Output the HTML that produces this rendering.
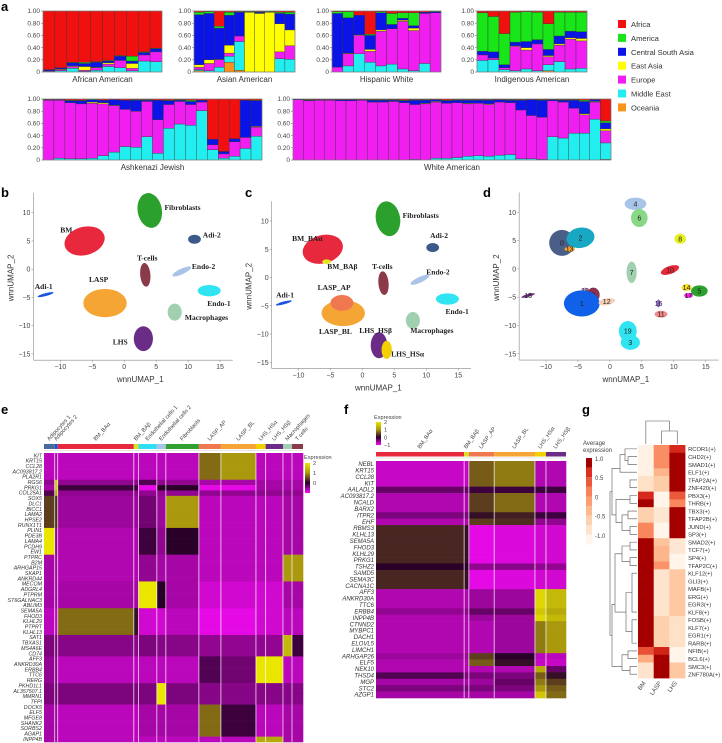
<!DOCTYPE html>
<html><head><meta charset="utf-8">
<style>
html,body{margin:0;padding:0;background:#fff;}
svg{display:block;font-family:"Liberation Sans",sans-serif;}
.pl{font-weight:bold;font-size:13px;fill:#000;}
.tk{font-size:6.5px;fill:#444;}
.ttl{font-size:8px;fill:#333;}
.ul{font-family:"Liberation Serif",serif;font-weight:bold;font-size:7.5px;fill:#222;}
.gl{font-style:italic;font-size:5.4px;fill:#333;}
.sm{font-size:5.6px;fill:#444;}
</style></head><body>
<svg id="fig" width="722" height="743" viewBox="0 0 722 743" xmlns="http://www.w3.org/2000/svg">
<g id="ga"></g>
<g id="gb"></g>
<g id="gc"></g>
<g id="gd"></g>
<g id="ge"></g>
<g id="gf"></g>
<g id="gg"></g>
</svg>
<script>
// ===== Panel a data: each bar = [Oceania, MiddleEast, Europe, EastAsia, CentralSouthAsia, America]; Africa = remainder
const ancestryNames = ["Oceania","Middle East","Europe","East Asia","Central South Asia","America","Africa"];
const ancestryColors = ["#f7941d","#22eef0","#f01ef0","#ffff00","#0a14e6","#18e618","#f01010"];
const africanAmerican = [[0,.01,.01,0,.02,0],[0,.02,.02,.01,.02,0],[0,.06,.03,.01,.05,.01],[0,.01,.02,.06,.05,.02],[0,.03,.04,.01,.08,.01],[0,.09,.04,.02,.03,.01],[0,.07,.12,0,.07,.01],[0,.02,.04,.08,.04,.08],[0,.18,.10,0,.04,.01],[0,.17,.16,0,.05,.01]];
const asianAmerican = [[.02,.02,.04,.04,.82,.04],[0,.02,.12,.06,.76,.03],[0,.08,.12,.01,.51,.03],[.16,.10,.05,.13,.49,.05],[.03,.47,.09,0,.39,.01],[0,0,0,.98,.01,.01],[0,0,0,.96,.02,.01],[0,0,0,.98,.01,.01],[0,.22,.11,.46,.17,.02],[0,.21,.22,.26,.26,.03]];
const hispanicWhite = [[0,0,.08,0,.88,.03],[0,.10,.20,.01,.58,.10],[0,.30,.30,.01,.32,0],[0,.16,.18,.03,.23,.02],[0,.10,.57,.02,.28,.02],[0,.13,.58,0,.07,.18],[0,.05,.78,.02,.03,.09],[0,.02,.66,.04,.04,.21],[0,.14,.82,0,.02,0],[0,0,.97,0,.02,.01]];
const indigenousAmerican = [[0,.19,.09,0,.06,.63],[0,.20,.03,0,.10,.58],[0,.04,.03,0,.05,.51],[0,.02,.40,.01,.06,.49],[0,.05,.31,.04,.10,.49],[0,.02,.44,0,.07,.45],[.02,.10,.13,.02,.10,.42],[0,.17,.27,.02,.13,.39],[0,.05,.49,.02,.11,.31],[0,.06,.45,.04,.11,.32]];
const ashkenaziJewish = [[0,0,.98,0,.01,0],[0,.03,.95,0,.01,0],[0,.02,.92,0,.03,.01],[0,.02,.90,0,.05,.01],[0,.03,.90,.02,.04,.01],[0,.07,.85,.02,.04,0],[0,.13,.76,.01,.09,0],[0,.22,.61,0,.15,0],[0,.21,.59,0,.18,.01],[0,.38,.58,0,.02,.01],[0,.11,.55,0,.32,0],[0,.52,.39,0,.06,.01],[0,.59,.37,0,.02,.01],[0,.57,.34,0,.05,.02],[0,.81,.14,0,.03,0],[0,.17,.08,0,.09,0],[0,.03,.07,0,.04,0],[0,.06,.24,0,.05,0],[0,.19,.18,0,.61,0],[0,.39,.15,.01,.42,.01]];
const whiteAmerican = [[0,0,.99,0,.01,0],[0,0,.97,0,.01,.01],[0,0,.98,0,.01,0],[0,0,.98,0,.01,0],[0,0,.97,0,.02,0],[0,0,.97,0,.02,0],[0,0,.98,0,.01,0],[0,0,.95,0,.03,.01],[0,0,.95,0,.03,.01],[0,0,.96,0,.02,.01],[0,0,.94,0,.03,.01],[0,.01,.90,0,.07,.01],[0,0,.92,.01,.05,.01],[0,.03,.92,.01,.03,0],[0,.03,.90,0,.04,.01],[0,.04,.90,0,.04,.01],[0,.06,.86,.01,.05,.01],[0,.07,.86,0,.05,.01],[0,.06,.85,.01,.06,.01],[0,.08,.87,0,.04,0],[0,.09,.85,0,.04,.01],[0,.02,.80,0,.16,.01],[0,.02,.71,0,.26,0],[0,.01,.69,0,.28,.01],[0,.38,.59,0,.02,0],[0,.36,.59,0,.03,.01],[0,.44,.41,0,.13,.01],[0,.44,.30,.02,.20,.02],[0,.67,.28,.01,.03,0],[.01,.27,.20,.03,.10,.03]];
const aTicks = ["0","0.20","0.40","0.60","0.80","1.00"];

// ===== Panel b/c/d cluster data: [label, umapX, umapY, rx, ry, color, angle]
const clustersB = [["Fibroblasts",4,10.4,1.9,3.1,"#2ca02c",-10],["BM",-6.2,5,3.2,2.5,"#e8283c",-15],["Adi-2",11,5.3,1.0,0.8,"#3b5a8a",0],["T-cells",3.3,-1,0.8,2.1,"#8b3a4a",-5],["Endo-2",9,-0.4,1.6,0.5,"#a9c4e8",-25],["Adi-1",-12.3,-4.5,1.3,0.25,"#1a55e0",-15],["LASP",-3,-6,3.4,2.5,"#f5a533",0],["Endo-1",13.3,-3.8,1.8,1.0,"#30e4f2",0],["Macrophages",7.9,-7.6,1.1,1.5,"#a0d0b0",0],["LHS",3,-12.3,1.5,2.2,"#6a2c86",0]];
const labelsB = [["Fibroblasts",6.3,10.5],["BM",-10,6.5],["Adi-2",12.3,5.6],["T-cells",2,1.5],["Endo-2",10.6,0],["Adi-1",-14,-3.5],["LASP",-5.5,-2.3],["Endo-1",13,-6.5],["Macrophages",9.5,-9],["LHS",-1.8,-13.3]];
const clustersC = [["Fibroblasts",4,10.4,1.9,3.1,"#2ca02c",-10],["BM_BAa",-6.2,5,3.2,2.5,"#e8283c",-15],["BM_BAb",-5.6,2.8,0.7,0.4,"#e6e620",0],["Adi-2",11,5.3,1.0,0.8,"#3b5a8a",0],["T-cells",3.3,-1,0.8,2.1,"#8b3a4a",-5],["Endo-2",9,-0.4,1.6,0.5,"#a9c4e8",-25],["Adi-1",-12.3,-4.5,1.3,0.25,"#1a55e0",-15],["LASP_BL",-3,-6.3,3.4,2.3,"#f5a533",0],["LASP_AP",-3.2,-4.5,1.8,1.4,"#f07850",0],["Endo-1",13.3,-3.8,1.8,1.0,"#30e4f2",0],["Macrophages",7.9,-7.6,1.1,1.5,"#a0d0b0",0],["LHS_HSb",2.6,-12,1.3,2.3,"#6a2c86",0],["LHS_HSa",3.8,-12.8,0.8,1.6,"#f5d000",0]];
const labelsC = [["Fibroblasts",6.3,10.5],["BM_BAα",-11,6.5],["BM_BAβ",-5.5,1.5],["Adi-2",10.6,7],["T-cells",1.5,1.5],["Endo-2",10,0.5],["Adi-1",-13.5,-3.5],["LASP_AP",-7,-2.2],["LASP_BL",-6.8,-10],["Endo-1",13,-6.5],["Macrophages",7.5,-9.8],["LHS_HSβ",-0.5,-9.8],["LHS_HSα",4.5,-14]];
const clustersD = [["0",-7.5,4.6,2.0,2.3,"#4a5f88",0],["2",-4.6,5.5,2.2,1.8,"#19a8c4",-10],["13",-6.3,3.5,0.8,0.5,"#f0a030",0],["4",4,11.5,1.7,1.1,"#a8c4e8",0],["6",4.6,9,1.3,1.6,"#88d888",0],["8",11,5.3,0.9,0.9,"#e6ef20",0],["7",3.4,-0.6,0.8,1.9,"#a0d0b0",0],["10",9.4,-0.2,1.5,0.7,"#e82838",-20],["14",12,-3.3,0.8,0.6,"#f5e020",0],["5",14,-3.9,1.3,1.0,"#2ca02c",0],["17",12.3,-4.7,0.7,0.4,"#e820e0",0],["18",-3.9,-3.8,0.6,0.5,"#c8a0c8",0],["9",-2.6,-4.6,1.0,1.3,"#8b3050",0],["1",-4.4,-6.1,2.8,2.3,"#1060e8",0],["12",-0.5,-5.8,1.3,0.6,"#f8d0b8",-10],["16",7.6,-6.1,0.3,0.7,"#8a60d8",0],["11",8,-8,1.0,0.6,"#f08888",0],["19",2.8,-11,1.4,1.8,"#30e4f2",0],["3",3.2,-13,1.5,1.3,"#30e4f2",0],["15",-12.8,-4.7,1.1,0.25,"#6a2c86",-15]];
const umapXTicks = [-10,-5,0,5,10,15];
const umapYTicks = [10,5,0,-5,-10,-15];

// ===== Panel e data
const eClusters = ["Adipocytes 1","Adipocytes 2","BM_BAα","BM_BAβ","Endothelial cells 1","Endothelial cells 2","Fibroblasts","LASP_AP","LASP_BL","LHS_HSα","LHS_HSβ","Macrophages","T cells"];
const eCellCounts = [10.7,3,76,4.7,18.3,9,33,22,35,9.7,17.3,9,11];
const eClusterColors = ["#4a6a9a","#2050e0","#e8283c","#d8e020","#30e0f0","#a8c4e8","#30a030","#f07850","#f5a533","#f0d000","#6a2c86","#a0d0b0","#8b3a4a"];
const eGenes = ["KIT","KRT15","CCL28","AC093817.2","PLA2R1","RGS6","PRKG1","COL25A1","SOX5","DLC1","BICC1","LAMA2","HPSE2","RUNX1T1","PLIN1","PDE3B","LAMA4","PCDH9","EW1","PTPRC","B2M","ARHGAP15","SKAP1","ANKRD44","MECOM","ADGRL4","PTPRM","ST6GALNAC3","ABLIM3","SEMA5A","FHOD3","KLHL29","PTPRT","KLHL13","SAT1","TBXAS1","MS4A6E","CD74","AFF3","ANKRD30A","ERBB4","TTC6","RERG","PKHD1L1","AL357507.1","MMRN1","TFPI","DOCK5","ELF5","MFGE8","SHANK2","SORBS2","AGAP1","INPP4B"];
const eGeneGroup = [0,0,0,0,0,1,2,3,4,4,4,4,4,4,5,5,5,5,5,6,6,6,6,6,7,7,7,7,7,8,8,8,8,8,9,9,9,9,10,10,10,10,10,11,11,11,11,12,12,12,12,12,12,13];
const eGroupValues = [
 [-.7,-.7,-.7,-.7,-.7,-.7,-.7,.7,1.0,-.7,-.7,-.7,-.7],
 [-.5,1.3,-.5,-.5,-.2,-.5,-.5,-.6,-.6,-.6,-.6,-.6,-.6],
 [-.6,1.3,-.1,-.1,-.9,0,0,-.9,-.9,-.6,-.6,-.6,-.6],
 [-.2,1.1,-.5,-.5,-.5,-.5,-.5,-.5,-.5,-.5,-.5,-.5,-.5],
 [.4,.3,-.55,-.55,-.35,-.55,1.0,-.7,-.7,-.7,-.7,-.6,-.6],
 [1.5,-.5,-.65,-.65,-.1,-.5,0,-.7,-.7,-.7,-.7,-.6,-.6],
 [-.6,-.6,-.65,-.65,-.5,-.6,-.6,-.7,-.7,-.7,-.7,1.0,1.0],
 [-.6,-.6,-.6,-.6,1.6,0,-.6,-.8,-.8,-.8,-.8,-.6,-.6],
 [-.7,-.7,.7,.1,-.8,-.8,-.7,-.9,-.9,-.8,-.8,-.7,-.7],
 [-.4,-.4,-.45,-.45,-.4,-.45,-.45,-.5,-.5,-.5,-.5,1.2,-.1],
 [-.5,-.5,-.7,-.7,-.7,-.7,-.7,-.2,-.35,1.5,1.5,-.7,-.7],
 [-.4,-.4,-.4,-.4,-.4,1.8,-.4,-.45,-.45,-.45,-.45,-.45,-.45],
 [-.6,-.6,-.7,-.7,-.6,-.6,-.6,.7,-.1,-.7,-.7,-.6,-.6],
 [-.6,-.6,-.7,-.7,-.7,-.7,-.7,-.7,-.7,1.1,1.1,-.6,-.6]];

// ===== Panel f data
const fClusters = ["BM_BAα","BM_BAβ","LASP_AP","LASP_BL","LHS_HSα","LHS_HSβ"];
const fCellCounts = [88,4.7,25.3,40.7,11,20];
const fClusterColors = ["#e8283c","#d8e020","#f07850","#f5a533","#f0d000","#6a2c86"];
const fGenes = ["NEBL","KRT15","CCL28","KIT","AALADL2","AC093817.2","NCALD","BARX2","ITPR2","EHF","RBMS3","KLHL13","SEMA5A","FHOD3","KLHL29","PRKG1","TSHZ2","SAMD5","SEMA3C","CACNA1C","AFF3","ANKRD30A","TTC6","ERBB4","INPP4B","CTNND2","MYBPC1","DACH1","ELOVL5","LIMCH1","ARHGAP26","ELF5","NEK10","THSD4","MGP","STC2","AZGP1"];
const fGeneGroup = [0,0,0,0,1,2,2,2,3,4,5,5,5,5,5,5,6,5,5,5,7,7,7,8,7,9,9,9,9,9,10,11,12,13,14,15,16];
const fGroupValues = [
 [-.75,-.75,.6,.8,-.65,-.65],[-.3,-.3,-.1,-.1,-.1,-.1],[-.65,-.65,.4,.7,-.65,-.65],[-.4,-.4,.1,.2,-.1,-.1],[-.65,-.65,.4,.3,-.5,-.5],
 [.25,.1,-.9,-.85,-.8,-.8],[0,0,-.5,-.45,-.5,-.5],[-.65,-.65,-.55,-.55,1.4,1.2],[-.5,-.5,-.3,-.3,1.3,1.1],[-.65,-.65,-.65,-.55,.8,1.0],
 [-.55,-.55,.4,0,-.7,-.7],[-.65,-.65,.6,.1,-.75,-.75],[-.65,-.65,-.65,-.65,1.1,-.3],[-.2,-.4,-.4,-.4,.6,.1],[-.6,-.6,-.55,-.3,.8,.4],[-.4,-.4,-.4,-.4,1.0,.6],[-.6,-.6,-.6,-.6,1.3,.7]];

// ===== Panel g data
const gCols = ["BM","LASP","LHS"];
const gTFs = ["RCOR1(+)","CHD2(+)","SMAD1(+)","ELF1(+)","TFAP2A(+)","ZNF420(+)","PBX3(+)","THRB(+)","TBX3(+)","TFAP2B(+)","JUND(+)","SP3(+)","SMAD2(+)","TCF7(+)","SP4(+)","TFAP2C(+)","KLF12(+)","GLI3(+)","MAFB(+)","ERG(+)","EGR3(+)","KLF8(+)","FOSB(+)","KLF7(+)","EGR1(+)","RARB(+)","NFIB(+)","BCL6(+)","SMC3(+)","ZNF780A(+)"];
const gBM   = [-.95,-.95,-.95,-.95,-.7,-.7,.8,1.2,-.5,-.5,.2,.2,1.2,1.2,1.2,1.2,1.2,1.2,1.2,1.2,1.2,1.2,1.2,1.2,1.2,1.2,.55,-.1,-.75,-.75];
const gLASP = [.15,.15,.15,-.2,-.45,-.45,-1,-1,-.8,-.8,-1,-1,-.35,-.2,-.2,.1,-.75,-.75,-.75,-.75,-.75,-.75,-.5,-.5,-.5,-.5,.85,1.2,1.2,1.2];
const gLHS  = [.8,1.2,1.2,1.2,1.2,1.2,.5,.2,1.2,1.2,1.2,1.2,-.8,-.8,-1,-1,-.4,-.4,-.4,-.4,-.4,-.4,-.7,-.7,-.7,-.7,-1,-1,-.4,-.4];
const gLegendTicks = ["1.0","0.5","0","-0.5","-1.0"];

const NS="http://www.w3.org/2000/svg";
function mk(parent,tag,attrs,txt){const e=document.createElementNS(NS,tag);for(const k in attrs)e.setAttribute(k,attrs[k]);if(txt!==undefined)e.textContent=txt;parent.appendChild(e);return e;}
const fig=document.getElementById('fig');
function plabel(t,x,y){const e=mk(fig,'text',{x:x,y:y,class:'pl'},t);

}
plabel('a',1,11);plabel('b',1,197);plabel('c',245,197);plabel('d',483,197);plabel('e',1,414);plabel('f',344,414);plabel('g',582,414);

// ---------- Panel a
const ga=document.getElementById('ga');
const aPanels=[["African American",africanAmerican,43,162,11,72],["Asian American",asianAmerican,194,295,11,72],["Hispanic White",hispanicWhite,332,441,11,72],["Indigenous American",indigenousAmerican,477,587,11,72],["Ashkenazi Jewish",ashkenaziJewish,43,262,99,160],["White American",whiteAmerican,293,611,99,160]];
aPanels.forEach(p=>{
  const [title,bars,x0,x1,y0,y1]=p;
  const g=mk(ga,'g',{});
  
  
  const yS=v=>y1-v*(y1-y0);
  const bw=(x1-x0)/bars.length;
  bars.forEach((b,i)=>{
    const vals=b.slice();let s=vals.reduce((a,c)=>a+c,0);vals.push(Math.max(0,1-s));
    let cum=0;
    vals.forEach((v,k)=>{ if(v<=0)return;
      const r=mk(g,'rect',{x:x0+i*bw,y:yS(cum+v),width:bw,height:yS(cum)-yS(cum+v),fill:ancestryColors[k],stroke:'#333','stroke-width':0.35});
      
      
      cum+=v;});
  });
  mk(g,'rect',{x:x0,y:y0,width:x1-x0,height:y1-y0,fill:'none',stroke:'#888','stroke-width':0.6});
  aTicks.forEach((t,k)=>{const v=k*0.2;
    mk(g,'line',{x1:x0-2,x2:x0,y1:yS(v),y2:yS(v),stroke:'#666','stroke-width':0.5});
    const e=mk(g,'text',{x:x0-3,y:yS(v)+2.2,class:'tk','text-anchor':'end'},t);
    
    });
  const tt=mk(g,'text',{x:(x0+x1)/2,y:y1+10,class:'ttl','text-anchor':'middle'},title);
  
  
});
const legendOrder=[6,5,4,3,2,1,0];
legendOrder.forEach((k,pos)=>{
  const y=20+pos*13.9;
  const r=mk(ga,'rect',{x:618,y:y,width:8,height:8,fill:ancestryColors[k]});
  
  
  const t=mk(ga,'text',{x:631,y:y+7,style:'font-size:7.6px;fill:#333'},ancestryNames[k]);
  
  
});

// ---------- UMAP panels
function umap(gid,clusters,labels,ax,numbered){
  const g=document.getElementById(gid);
  const xS=v=>ax.x0+(v+10)*ax.sx, yS=v=>ax.y0+(10-v)*ax.sy;
  clusters.forEach(c=>{
    const e=mk(g,'ellipse',{cx:xS(c[1]),cy:yS(c[2]),rx:c[3]*ax.sx,ry:c[4]*ax.sy,fill:c[5],transform:`rotate(${c[6]} ${xS(c[1])} ${yS(c[2])})`});
    
    
    if(numbered){const t=mk(g,'text',{x:xS(c[1]),y:yS(c[2])+2.5,'text-anchor':'middle',style:'font-size:7px;fill:#222'},c[0]);
      
      }
  });
  (labels||[]).forEach(l=>{const t=mk(g,'text',{x:xS(l[1]),y:yS(l[2]),class:'ul'},l[0]);
    
    });
  const bottom=yS(-16.1);
  const xl=xS(-14.2);
  mk(g,'line',{x1:xl,x2:xl,y1:yS(13.5),y2:bottom,stroke:'#888','stroke-width':0.6});
  mk(g,'line',{x1:xl,x2:xS(17),y1:bottom,y2:bottom,stroke:'#888','stroke-width':0.6});
  umapXTicks.forEach(v=>{mk(g,'line',{x1:xS(v),x2:xS(v),y1:bottom,y2:bottom+2,stroke:'#888','stroke-width':0.5});
    const t=mk(g,'text',{x:xS(v),y:bottom+9,class:'tk','text-anchor':'middle',style:'font-size:7px'},v<0?'\u2212'+(-v):v);
    
    });
  umapYTicks.forEach(v=>{mk(g,'line',{x1:xl-2,x2:xl,y1:yS(v),y2:yS(v),stroke:'#888','stroke-width':0.5});
    const t=mk(g,'text',{x:xl-3,y:yS(v)+2.5,class:'tk','text-anchor':'end',style:'font-size:7px'},v<0?'\u2212'+(-v):v);
    
    });
  const xt=mk(g,'text',{x:xS(2.5),y:bottom+22,'text-anchor':'middle',style:'font-size:8px;fill:#333'},'wnnUMAP_1');
  
  
  const yy=(yS(13)+bottom)/2, yx=xl-20;
  const yt=mk(g,'text',{x:yx,y:yy,'text-anchor':'middle',transform:`rotate(-90 ${yx} ${yy})`,style:'font-size:8px;fill:#333'},'wnnUMAP_2');
  
  
}
umap('gb',clustersB,labelsB,{x0:60.3,sx:6.39,y0:212.7,sy:5.65},false);
umap('gc',clustersC,labelsC,{x0:298.5,sx:6.39,y0:221,sy:5.65},false);
umap('gd',clustersD,[],{x0:546,sx:6.39,y0:212.3,sy:5.66},true);

// ---------- colormaps
function lerp(a,b,t){return a.map((v,i)=>Math.round(v+(b[i]-v)*t));}
function heatCol(v){v=Math.max(-1,Math.min(2,v));let c;
  if(v<0)c=lerp([40,0,40],[250,10,250],-v);else c=lerp([40,0,40],[235,230,0],Math.min(1,v/1.5));
  return `rgb(${c[0]},${c[1]},${c[2]})`;}
const orStops=[[255,245,235],[253,215,180],[253,174,130],[246,120,80],[220,45,30],[165,0,0]];
function orCol(v){v=Math.max(-1,Math.min(1.2,v));let t=(v+1)/2.2*(orStops.length-1);let i=Math.min(orStops.length-2,Math.floor(t));
  const c=lerp(orStops[i],orStops[i+1],t-i);return `rgb(${c[0]},${c[1]},${c[2]})`;}

function heatmap(gid,genes,groupIdx,groupVals,clusters,counts,colors,box,labelFs,headerY,headerH,angle){
  const g=document.getElementById(gid);
  const tot=counts.reduce((a,b)=>a+b,0);
  const xs=[box.x0];counts.forEach((c,i)=>xs.push(xs[i]+c/tot*(box.x1-box.x0)));
  const rh=(box.y1-box.y0)/genes.length;
  clusters.forEach((c,j)=>{
    const r=mk(g,'rect',{x:xs[j],y:headerY,width:xs[j+1]-xs[j],height:headerH,fill:colors[j]});
    
    
    const cx=(xs[j]+xs[j+1])/2, cy=headerY-3;
    const t=mk(g,'text',{x:cx,y:cy,class:'sm',transform:`rotate(${angle} ${cx} ${cy})`},c);
    
    
  });
  genes.forEach((gn,i)=>{
    const vals=groupVals[groupIdx[i]];
    clusters.forEach((c,j)=>{
      const r=mk(g,'rect',{x:xs[j],y:box.y0+i*rh,width:xs[j+1]-xs[j]+0.3,height:rh+0.3,fill:heatCol(vals[j])});
      
      
    });
    const t=mk(g,'text',{x:box.x0-2,y:box.y0+i*rh+rh*0.8,class:'gl','text-anchor':'end',style:`font-size:${labelFs}px`},gn);
    
    
  });
  for(let j=1;j<clusters.length;j++)mk(g,'line',{x1:xs[j],x2:xs[j],y1:box.y0,y2:box.y1,stroke:'#fff','stroke-width':0.8,opacity:0.85});
  mk(g,'line',{x1:box.x0,x2:box.x1,y1:headerY+headerH+1.5,y2:headerY+headerH+1.5,stroke:'#ddd','stroke-width':0.8});
}
function heatLegend(g,x,y,h,ticks){
  const id='hl'+x;const d=mk(g,'defs',{});const lg=mk(d,'linearGradient',{id:id,x1:0,y1:0,x2:0,y2:1});
  [[0,2],[.33,1],[.66,0],[1,-1]].forEach(s=>mk(lg,'stop',{offset:s[0],'stop-color':heatCol(s[1])}));
  const r=mk(g,'rect',{x:x,y:y,width:5,height:h,fill:`url(#${id})`});
  
  
  ticks.forEach((t,k)=>{const tx=mk(g,'text',{x:x+8,y:y+2+k*h/3,class:'sm'},t);
    
    });
}
const ge=document.getElementById('ge');
heatmap('ge',eGenes,eGeneGroup,eGroupValues,eClusters,eCellCounts,eClusterColors,{x0:44,x1:303,y0:453,y1:742},5.3,444,5,-48);
let et=mk(ge,'text',{x:304,y:459,class:'sm'},'Expression');
heatLegend(ge,305,463,30,['2','1','0']);

const gf=document.getElementById('gf');
heatmap('gf',fGenes,fGeneGroup,fGroupValues,fClusters,fCellCounts,fClusterColors,{x0:376,x1:566,y0:461,y1:698},6,452,4.5,-55);
let ft=mk(gf,'text',{x:374,y:419,class:'sm'},'Expression');
heatLegend(gf,376,422,23,['2','1','0','\u22121']);

// ---------- Panel g
const gg=document.getElementById('gg');
const gx0=638,gcw=15.7,gy0=445,grh=7.77;
const gSeries=[gBM,gLASP,gLHS];
gTFs.forEach((tf,i)=>{
  gSeries.forEach((s,j)=>{
    const r=mk(gg,'rect',{x:gx0+j*gcw,y:gy0+i*grh,width:gcw+0.3,height:grh+0.3,fill:orCol(s[i])});
    
    
  });
  const t=mk(gg,'text',{x:gx0+3*gcw+3,y:gy0+i*grh+grh*0.8,class:'sm',style:'font-size:5.8px;fill:#333'},tf);
  
  
});
gCols.forEach((c,j)=>{const cx=gx0+j*gcw+gcw/2, cy=gy0+30*grh+5;
  const t=mk(gg,'text',{x:cx,y:cy,class:'sm',style:'font-size:6px',transform:`rotate(-55 ${cx} ${cy})`,'text-anchor':'end'},c);
  
  });
const cc=j=>gx0+j*gcw+gcw/2;
const dp=`M${cc(1)} 444 V431 H${cc(2)} V444 M${(cc(1)+cc(2))/2} 431 V421 H${cc(0)} V444`;
let dd=mk(gg,'path',{d:dp,fill:'none',stroke:'#555','stroke-width':0.6});
const ry=i=>gy0+i*grh+grh/2;
function mid(a,b){return (a+b)/2;}
let rp='';
function join(y1,y2,x,xa,xb){rp+=`M${xa} ${y1} H${x} V${y2} H${xb} `;}
join(ry(1),ry(2),628,637,637);join(ry(0),mid(ry(1),ry(2)),625,637,628);join(ry(4),ry(5),630,637,637);
join(mid(ry(0),mid(ry(1),ry(2))),ry(3),620,625,637);
join(ry(6),ry(7),630,637,637);join(ry(8),ry(9),628,637,637);join(ry(10),ry(11),630,637,637);
join(mid(ry(8),ry(9)),mid(ry(10),ry(11)),622,628,630);
join(mid(ry(6),ry(7)),mid(mid(ry(8),ry(9)),mid(ry(10),ry(11))),616,630,622);
join(ry(12),ry(13),630,637,637);join(ry(14),ry(15),630,637,637);
join(mid(ry(12),ry(13)),mid(ry(14),ry(15)),622,630,630);
join(ry(16),ry(21),632,637,637);join(ry(22),ry(25),632,637,637);
join(mid(ry(16),ry(21)),mid(ry(22),ry(25)),626,632,632);
join(mid(mid(ry(12),ry(13)),mid(ry(14),ry(15))),mid(mid(ry(16),ry(21)),mid(ry(22),ry(25))),615,622,626);
join(ry(26),ry(27),628,637,637);join(ry(28),ry(29),630,637,637);
join(mid(ry(26),ry(27)),mid(ry(28),ry(29)),622,628,630);
join(mid(ry(0),ry(5)),mid(ry(6),ry(11)),612,620,616);
join(ry(20),ry(28),612,615,622);
join(mid(ry(0),ry(11)),ry(24),610,612,612);
let rd=mk(gg,'path',{d:rp,fill:'none',stroke:'#555','stroke-width':0.6});
let l1=mk(gg,'text',{x:583,y:445,class:'sm',style:'font-size:6px'},'Average');
let l2=mk(gg,'text',{x:583,y:452,class:'sm',style:'font-size:6px'},'expression');
const steps=[1.2,.75,.5,.25,0,-.25,-.5,-.75,-1];
steps.forEach((v,k)=>{const r=mk(gg,'rect',{x:586,y:458+k*9.6,width:6,height:9.7,fill:orCol(v)});
  
  });
gLegendTicks.forEach((t,k)=>{const tx=mk(gg,'text',{x:595,y:461+k*19.2,class:'sm',style:'font-size:6px'},t);
  
  });
</script>
</body></html>
